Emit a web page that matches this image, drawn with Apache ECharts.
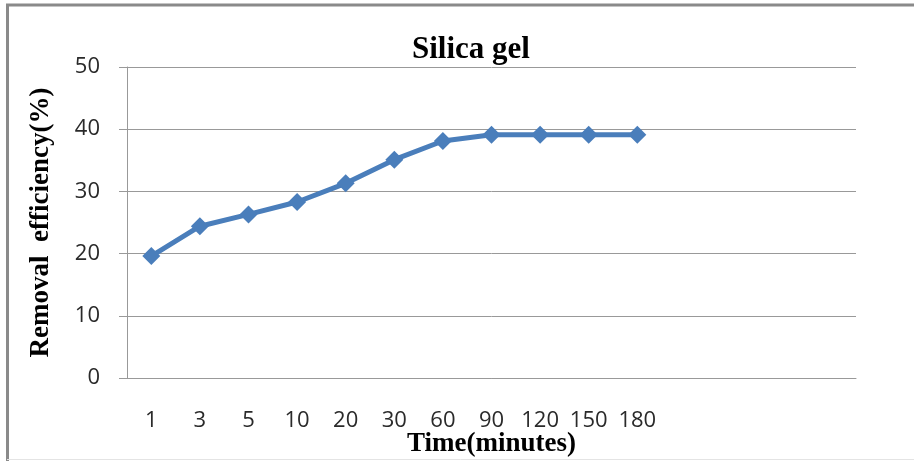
<!DOCTYPE html>
<html>
<head>
<meta charset="utf-8">
<script src="https://cdn.jsdelivr.net/npm/echarts@6/dist/echarts.min.js"></script>
<style>html,body{margin:0;padding:0;background:#fff;}#c{width:914px;height:461px;}</style>
</head>
<body>
<div id="c"></div>
<script>
var titleText = 'Silica gel';
var xAxisName = 'Time(minutes)';
var yAxisName = 'Removal  efficiency(%)';
var categories = ['1', '3', '5', '10', '20', '30', '60', '90', '120', '150', '180', '', '', '', ''];
var removalEfficiency = [19.6, 24.4, 26.3, 28.3, 31.3, 35.1, 38.1, 39.1, 39.1, 39.1, 39.1];
var yTicks = { min: 0, max: 50, interval: 10 };

var chart = echarts.init(document.getElementById('c'));
chart.setOption({
  animation: false,
  backgroundColor: '#ffffff',
  title: {
    text: titleText,
    left: 466, top: 29, textAlign: 'center',
    textStyle: { fontFamily: 'Liberation Serif', fontWeight: 'bold', fontSize: 31, color: '#000' }
  },
  graphic: [
    { type: 'line', shape: { x1: 6, y1: 5, x2: 914, y2: 5 }, style: { stroke: '#8a8a8a', lineWidth: 3 } },
    { type: 'line', shape: { x1: 7.5, y1: 5, x2: 7.5, y2: 461 }, style: { stroke: '#8a8a8a', lineWidth: 3 } },
    { type: 'line', shape: { x1: 7, y1: 459.5, x2: 914, y2: 459.5 }, style: { stroke: '#e4e4e4', lineWidth: 1 } }
  ],
  grid: { left: 127, right: 58, top: 67, bottom: 83, containLabel: false, outerBoundsMode: 'none' },
  xAxis: {
    type: 'category',
    data: categories,
    boundaryGap: true,
    name: xAxisName,
    nameLocation: 'middle',
    nameMoveOverlap: false,
    nameGap: 53,
    nameTextStyle: { fontFamily: 'Liberation Serif', fontWeight: 'bold', fontSize: 27, color: '#000' },
    axisLine: { show: true, lineStyle: { color: '#999', width: 1 } },
    axisTick: { show: false },
    axisLabel: { interval: 0, margin: 32, fontFamily: 'Open Sans', fontSize: 22, color: '#2a2a2a' },
    splitLine: { show: false }
  },
  yAxis: {
    type: 'value',
    min: yTicks.min, max: yTicks.max, interval: yTicks.interval,
    name: yAxisName,
    nameLocation: 'middle',
    nameMoveOverlap: false,
    nameGap: 72,
    nameRotate: 90,
    nameTextStyle: { fontFamily: 'Liberation Serif', fontWeight: 'bold', fontSize: 27, color: '#000' },
    axisLine: { show: true, lineStyle: { color: '#999', width: 1 } },
    axisTick: { show: true, length: 8, lineStyle: { color: '#999' } },
    axisLabel: { margin: 27, fontFamily: 'Open Sans', fontSize: 22, color: '#2a2a2a' },
    splitLine: { show: true, lineStyle: { color: '#999', width: 1 } }
  },
  series: [{
    type: 'line',
    data: removalEfficiency,
    symbol: 'diamond',
    symbolSize: 18,
    lineStyle: { color: '#4a7ebb', width: 5 },
    itemStyle: { color: '#4a7ebb' }
  }]
});
</script>
</body>
</html>
